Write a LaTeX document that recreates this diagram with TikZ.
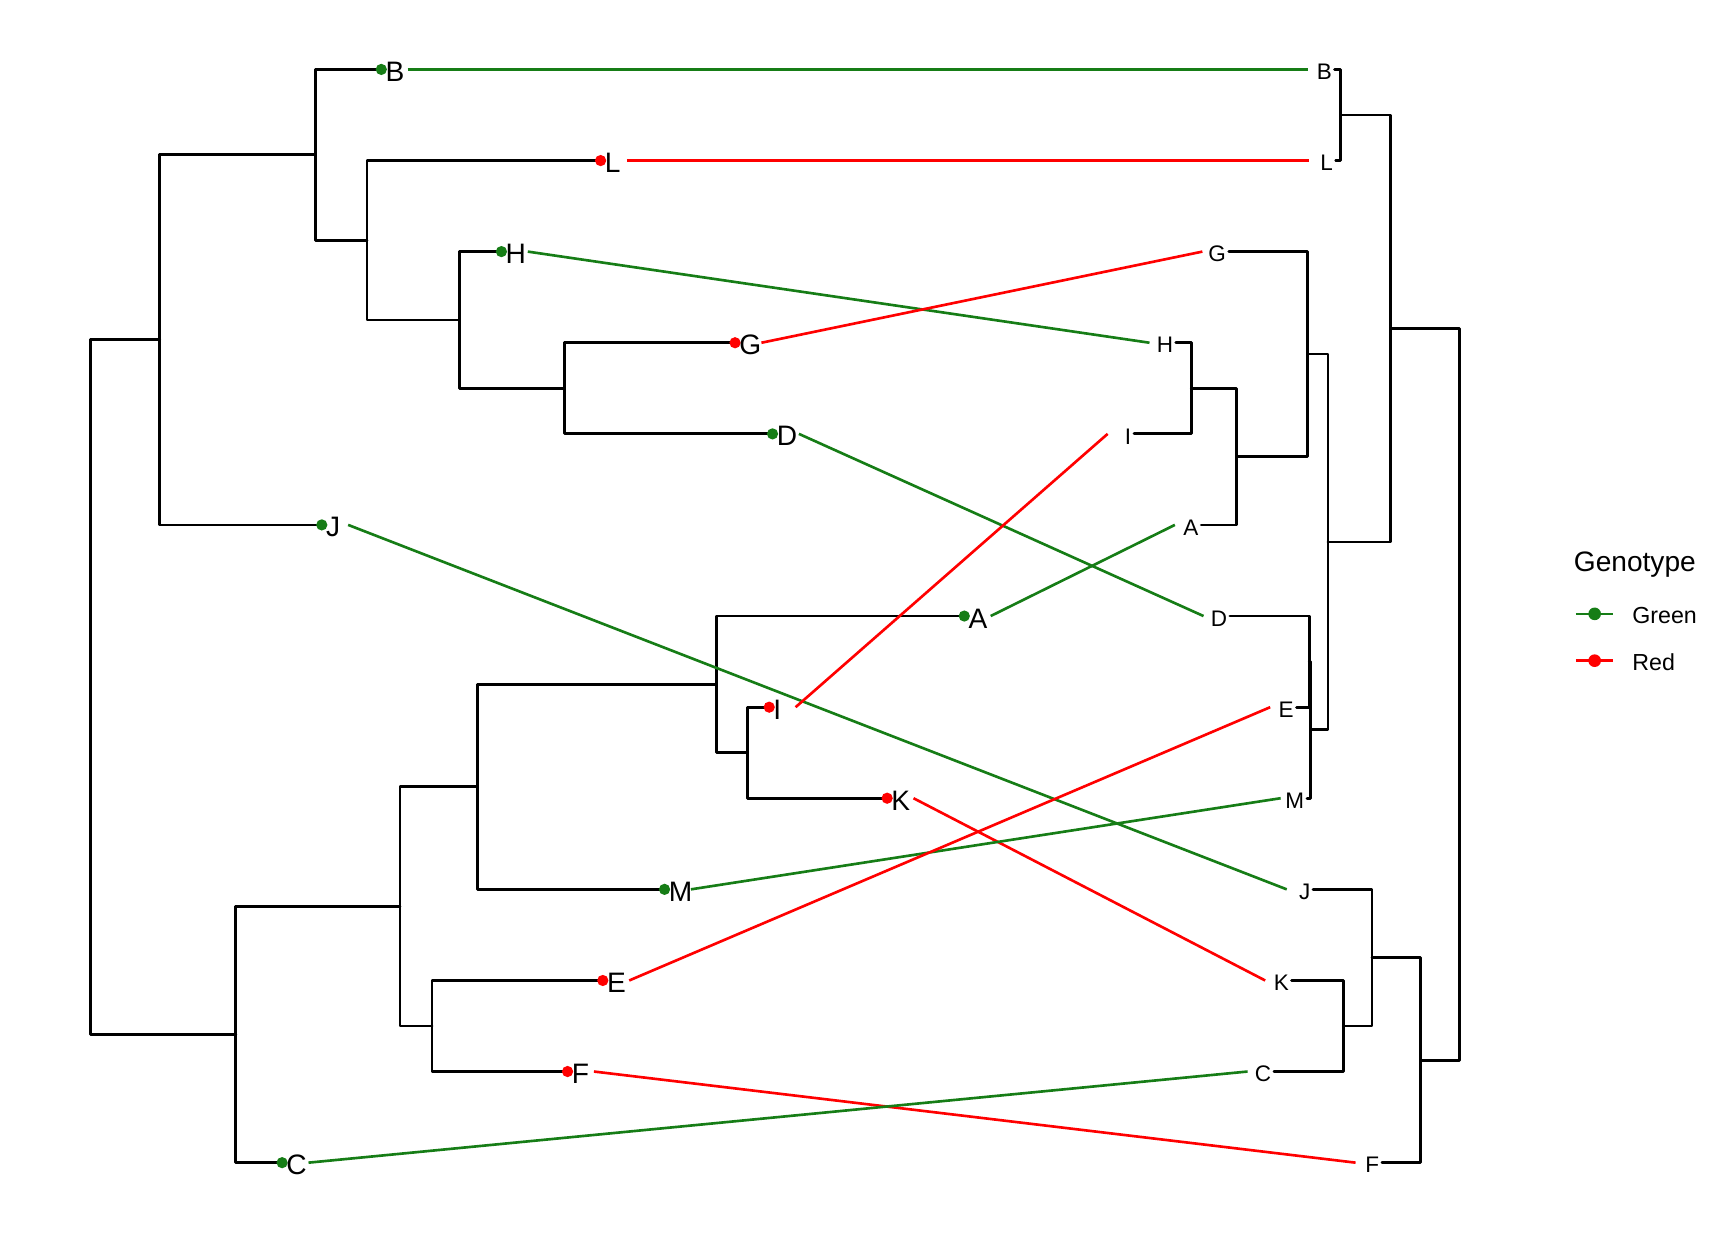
\documentclass[tikz,border=0pt]{standalone}
\usepackage{fontspec}
\setmainfont{Liberation Sans}
\definecolor{gtgreen}{RGB}{22,125,22}
\definecolor{gtred}{RGB}{255,0,0}

\begin{document}
\begin{tikzpicture}
  [x=0.01102cm,y=-0.01102cm,
   branch/.style={line width=0.8pt,line cap=round,line join=round},
   link/.style={line width=0.75pt},
   leftlab/.style={anchor=base west,inner sep=0pt,xshift=1.0pt,yshift=-3.4pt,font=\fontsize{8}{9.6}\selectfont},
   rightlab/.style={anchor=base east,inner sep=0pt,xshift=-0.6pt,yshift=-2.9pt,font=\fontsize{6.4}{7.6}\selectfont},
   legtext/.style={anchor=base west,inner sep=0pt,font=\fontsize{6.6}{8}\selectfont}]
  \useasboundingbox (0,0) rectangle (1568,1125);

  % left tree: tips
  \coordinate (tB) at (346,63);
  \coordinate (tL) at (545,145.7);
  \coordinate (tH) at (455,228.3);
  \coordinate (tG) at (667,311);
  \coordinate (tD) at (701,393.7);
  \coordinate (tJ) at (292,476.3);
  \coordinate (tA) at (875,559);
  \coordinate (tI) at (698,641.7);
  \coordinate (tK) at (805,724.3);
  \coordinate (tM) at (603,807);
  \coordinate (tE) at (547,889.7);
  \coordinate (tF) at (515,972.3);
  \coordinate (tC) at (256,1055);
  % left tree: inner nodes
  \coordinate (a1) at (82,623.6);
  \coordinate (a2) at (145,308.4);
  \coordinate (a3) at (286,140.5);
  \coordinate (a4) at (333,218);
  \coordinate (a5) at (417,290.3);
  \coordinate (a6) at (512,352.35);
  \coordinate (a8) at (214,938.75);
  \coordinate (a9) at (363,822.5);
  \coordinate (a10) at (433,714);
  \coordinate (a11) at (650,621);
  \coordinate (a12) at (678,683);
  \coordinate (a13) at (392,931);

  \draw[branch] (a1) |- (a2) (a1) |- (a8);
  \draw[branch] (a2) |- (a3) (a2) |- (tJ);
  \draw[branch] (a3) |- (tB) (a3) |- (a4);
  \draw[branch] (a4) |- (tL) (a4) |- (a5);
  \draw[branch] (a5) |- (tH) (a5) |- (a6);
  \draw[branch] (a6) |- (tG) (a6) |- (tD);
  \draw[branch] (a8) |- (a9) (a8) |- (tC);
  \draw[branch] (a9) |- (a10) (a9) |- (a13);
  \draw[branch] (a10) |- (a11) (a10) |- (tM);
  \draw[branch] (a11) |- (tA) (a11) |- (a12);
  \draw[branch] (a12) |- (tI) (a12) |- (tK);
  \draw[branch] (a13) |- (tE) (a13) |- (tF);

  % right tree: tips
  \coordinate (uB) at (1211,63);
  \coordinate (uL) at (1212,145.7);
  \coordinate (uG) at (1115,228.3);
  \coordinate (uH) at (1067,311);
  \coordinate (uI) at (1029,393.7);
  \coordinate (uA) at (1090,476.3);
  \coordinate (uD) at (1116,559);
  \coordinate (uE) at (1176.5,641.7);
  \coordinate (uM) at (1186,724.3);
  \coordinate (uJ) at (1191.5,807);
  \coordinate (uK) at (1172,889.7);
  \coordinate (uC) at (1156,972.3);
  \coordinate (uF) at (1254,1055);
  % right tree: inner nodes
  \coordinate (b1) at (1324,630);
  \coordinate (b2) at (1262,298.1);
  \coordinate (b3) at (1216.5,104.35);
  \coordinate (b4) at (1205,491.8);
  \coordinate (b5) at (1186.5,321.3);
  \coordinate (b6) at (1122,414.3);
  \coordinate (b7) at (1081,352.35);
  \coordinate (b8) at (1189.5,662.3);
  \coordinate (b9) at (1188,600.35);
  \coordinate (b10) at (1289,962);
  \coordinate (b11) at (1245,869);
  \coordinate (b12) at (1219,931);

  \draw[branch] (b1) |- (b2) (b1) |- (b10);
  \draw[branch] (b2) |- (b3) (b2) |- (b4);
  \draw[branch] (b3) |- (uB) (b3) |- (uL);
  \draw[branch] (b4) |- (b5) (b4) |- (b8);
  \draw[branch] (b5) |- (uG) (b5) |- (b6);
  \draw[branch] (b6) |- (b7) (b6) |- (uA);
  \draw[branch] (b7) |- (uH) (b7) |- (uI);
  \draw[branch] (b8) |- (b9) (b8) |- (uM);
  \draw[branch] (b9) |- (uD) (b9) |- (uE);
  \draw[branch] (b10) |- (b11) (b10) |- (uF);
  \draw[branch] (b11) |- (uJ) (b11) |- (b12);
  \draw[branch] (b12) |- (uK) (b12) |- (uC);

  % tip dots and labels
  \fill[gtgreen] (tB) circle[radius=1.6pt]; \node[leftlab] (lB) at (tB) {B};
  \fill[gtred]   (tL) circle[radius=1.6pt]; \node[leftlab] (lL) at (tL) {L};
  \fill[gtgreen] (tH) circle[radius=1.6pt]; \node[leftlab] (lH) at (tH) {H};
  \fill[gtred]   (tG) circle[radius=1.6pt]; \node[leftlab] (lG) at (tG) {G};
  \fill[gtgreen] (tD) circle[radius=1.6pt]; \node[leftlab] (lD) at (tD) {D};
  \fill[gtgreen] (tJ) circle[radius=1.6pt]; \node[leftlab] (lJ) at (tJ) {J};
  \fill[gtgreen] (tA) circle[radius=1.6pt]; \node[leftlab] (lA) at (tA) {A};
  \fill[gtred]   (tI) circle[radius=1.6pt]; \node[leftlab] (lI) at (tI) {I};
  \fill[gtred]   (tK) circle[radius=1.6pt]; \node[leftlab] (lK) at (tK) {K};
  \fill[gtgreen] (tM) circle[radius=1.6pt]; \node[leftlab] (lM) at (tM) {M};
  \fill[gtred]   (tE) circle[radius=1.6pt]; \node[leftlab] (lE) at (tE) {E};
  \fill[gtred]   (tF) circle[radius=1.6pt]; \node[leftlab] (lF) at (tF) {F};
  \fill[gtgreen] (tC) circle[radius=1.6pt]; \node[leftlab] (lC) at (tC) {C};

  \node[rightlab] (rB) at (uB) {B};
  \node[rightlab] (rL) at (uL) {L};
  \node[rightlab] (rG) at (uG) {G};
  \node[rightlab] (rH) at (uH) {H};
  \node[rightlab] (rI) at (uI) {I};
  \node[rightlab] (rA) at (uA) {A};
  \node[rightlab] (rD) at (uD) {D};
  \node[rightlab] (rE) at (uE) {E};
  \node[rightlab] (rM) at (uM) {M};
  \node[rightlab] (rJ) at (uJ) {J};
  \node[rightlab] (rK) at (uK) {K};
  \node[rightlab] (rC) at (uC) {C};
  \node[rightlab] (rF) at (uF) {F};

  % connecting lines
  \draw[link,gtgreen] ([xshift=7.5pt]tB) -- ([xshift=-7.5pt]uB);
  \draw[link,gtred]   ([xshift=7.5pt]tL) -- ([xshift=-7.5pt]uL);
  \draw[link,gtgreen] ([xshift=7.5pt]tH) -- ([xshift=-7.5pt]uH);
  \draw[link,gtred]   ([xshift=7.5pt]tG) -- ([xshift=-7.5pt]uG);
  \draw[link,gtgreen] ([xshift=7.5pt]tD) -- ([xshift=-7.5pt]uD);
  \draw[link,gtgreen] ([xshift=7.5pt]tJ) -- ([xshift=-7.5pt]uJ);
  \draw[link,gtgreen] ([xshift=7.5pt]tA) -- ([xshift=-7.5pt]uA);
  \draw[link,gtred]   ([xshift=7.5pt]tI) -- ([xshift=-7.5pt]uI);
  \draw[link,gtred]   ([xshift=7.5pt]tK) -- ([xshift=-7.5pt]uK);
  \draw[link,gtgreen] ([xshift=7.5pt]tM) -- ([xshift=-7.5pt]uM);
  \draw[link,gtred]   ([xshift=7.5pt]tE) -- ([xshift=-7.5pt]uE);
  \draw[link,gtred]   ([xshift=7.5pt]tF) -- ([xshift=-7.5pt]uF);
  \draw[link,gtgreen] ([xshift=7.5pt]tC) -- ([xshift=-7.5pt]uC);

  % legend
  \node[anchor=base west,inner sep=0pt,font=\fontsize{8}{9.6}\selectfont] (legtitle) at (1427.5,518.9) {Genotype};
  \coordinate (kg1) at (1430,557);
  \coordinate (kg) at (1447,557);
  \coordinate (kg2) at (1464,557);
  \coordinate (kr1) at (1430,599.5);
  \coordinate (kr) at (1447,599.5);
  \coordinate (kr2) at (1464,599.5);
  \draw[link,gtgreen] (kg1) -- (kg2);
  \fill[gtgreen] (kg) circle[radius=1.8pt];
  \draw[link,gtred] (kr1) -- (kr2);
  \fill[gtred] (kr) circle[radius=1.8pt];
  \node[legtext] (leggreen) at (1480.6,566) {Green};
  \node[legtext] (legred) at (1480.6,608) {Red};
\end{tikzpicture}
\end{document}
